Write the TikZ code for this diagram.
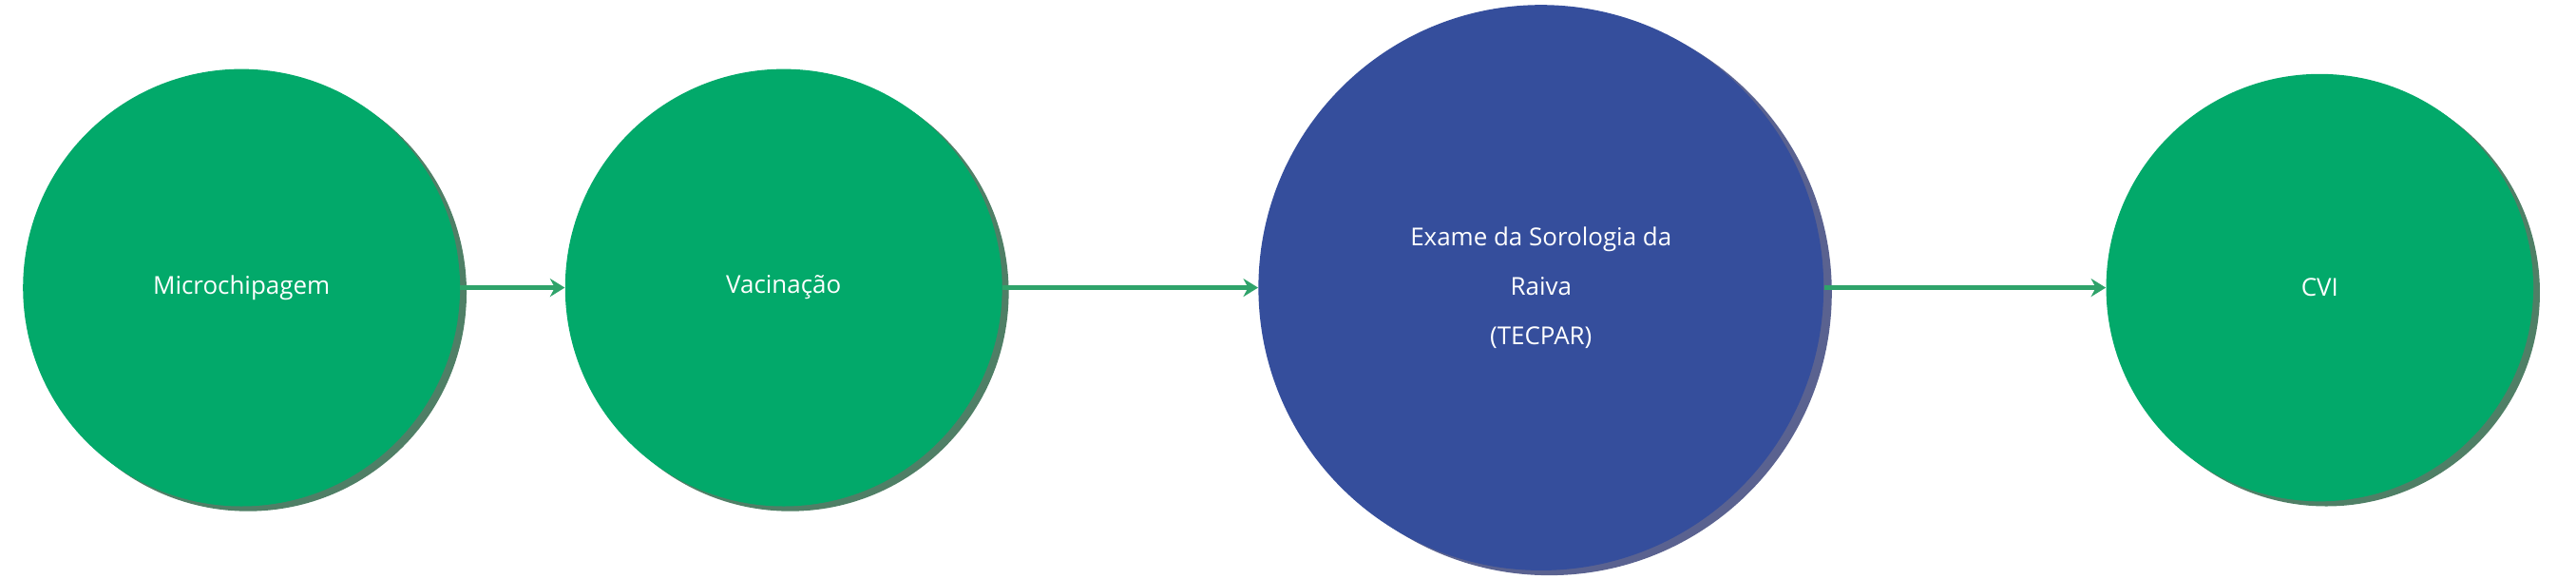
\documentclass[tikz,border=0pt]{standalone}
\usepackage{fontspec}
\setmainfont{Open Sans}
\usetikzlibrary{arrows.meta}
\definecolor{cg}{HTML}{02A96A}
\definecolor{cgs}{HTML}{4F7F66}
\definecolor{cb}{HTML}{354E9C}
\definecolor{cbs}{HTML}{5A6290}
\definecolor{ca}{HTML}{2FA36A}
\begin{document}
\begin{tikzpicture}[x=1pt,y=-1pt,
  stepnode/.style={circle,fill=cg,text=white,font=\fontsize{15}{30}\selectfont,align=center,inner sep=0pt},
  shadowg/.style={fill=cgs},
  conn/.style={draw=ca,line width=2.6pt,-{Stealth[length=9pt,width=11pt]}}]
\useasboundingbox (0,0) rectangle (1568,352);
\fill[cgs] (151,178) circle (133);
\fill[cgs] (481,178) circle (133);
\fill[cbs] (943,178) circle (172);
\fill[cgs] (1416,178) circle (130);
\node[stepnode,minimum size=266pt] (a) at (147,175) {Microchipagem};
\node[stepnode,minimum size=266pt] (b) at (477,175) {Vacinação};
\node[stepnode,fill=cb,minimum size=344pt] (c) at (938,175) {Exame da Sorologia da\\Raiva\\(TECPAR)};
\node[stepnode,minimum size=260pt] (d) at (1412,175) {CVI};
\draw[conn] (a.east) -- (b.west);
\draw[conn] (b.east) -- (c.west);
\draw[conn] (c.east) -- (d.west);
\end{tikzpicture}
\end{document}
